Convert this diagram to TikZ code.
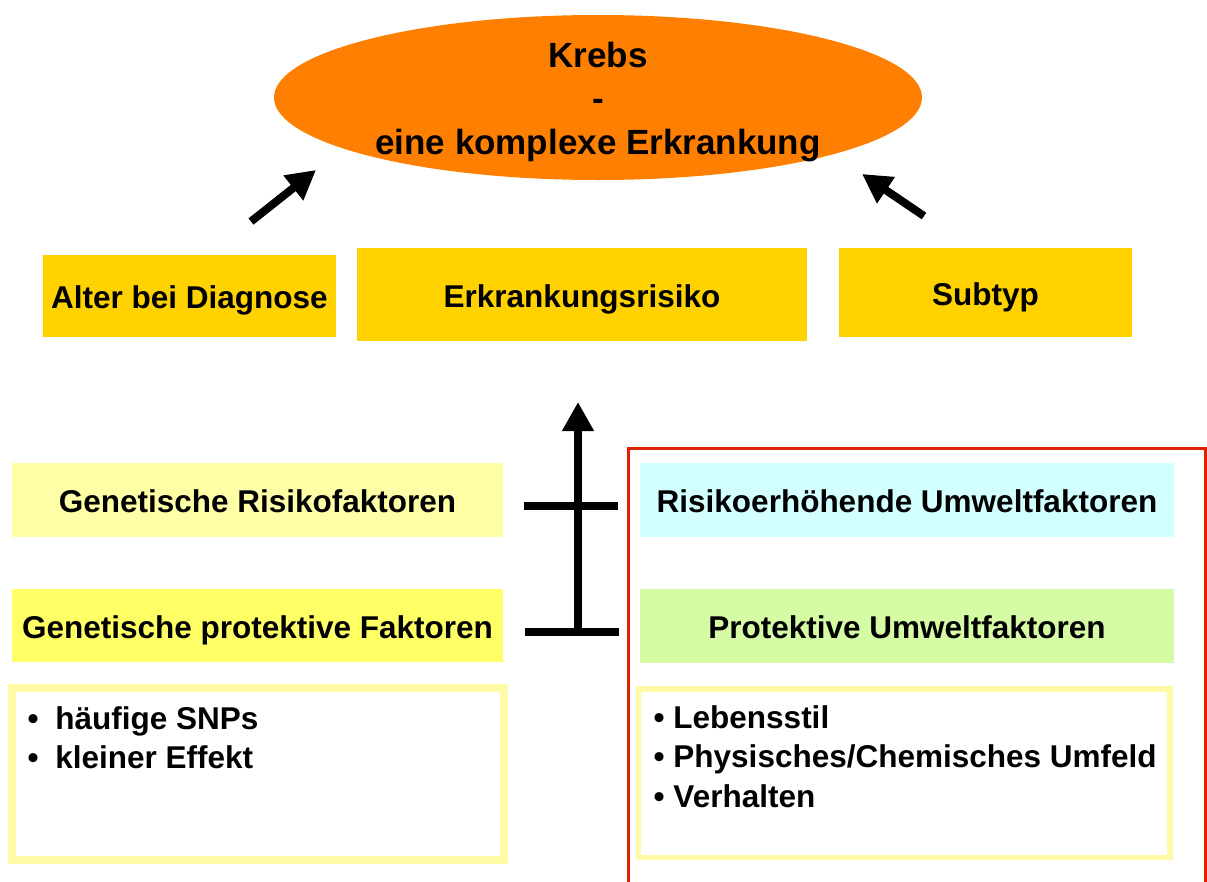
\documentclass[tikz,border=0pt]{standalone}
\usepackage{fontspec}
\setmainfont{Liberation Sans}
\usetikzlibrary{shapes.geometric,arrows.meta}
\definecolor{krebsorange}{HTML}{FF8000}
\definecolor{gold}{HTML}{FFD200}
\definecolor{paleyellow}{HTML}{FFFFA8}
\definecolor{brightyellow}{HTML}{FFFF66}
\definecolor{palecyan}{HTML}{D2FFFF}
\definecolor{palegreen}{HTML}{D5FCA5}
\definecolor{framered}{HTML}{DD2200}
\definecolor{listborder}{HTML}{FFFAA5}

\begin{document}
\begin{tikzpicture}[x=1pt,y=-1pt,
  txt/.style={font=\fontsize{31.5}{39}\selectfont\bfseries},
  fbox/.style={txt, inner sep=0pt, text height=25pt, text depth=0pt, minimum width=#1},
  listbox/.style={draw=listborder, fill=white, inner sep=0pt},
  listline/.style={txt, inner sep=0pt, anchor=base west},
  bigarrow/.style={line width=8pt, -{Triangle[length=29pt,width=30pt]}},
  bar/.style={line width=8pt},
]
\clip (0,0) rectangle (1207,881);
\fill[white] (0,0) rectangle (1207,881);

% central ellipse
\node[ellipse, fill=krebsorange, minimum width=648pt, minimum height=165pt, inner sep=0pt] (krebs) at (598,97.5) {};
\node[font=\fontsize{35}{43.5}\selectfont\bfseries, align=center, inner sep=0pt] (krebstext) at (598,102) {Krebs\\-\\eine komplexe Erkrankung};

% top row of boxes
\node[fbox=293pt, minimum height=82pt, fill=gold] (alter) at (189.5,296) {Alter bei Diagnose};
\node[fbox=450pt, minimum height=93pt, fill=gold] (risiko) at (582,294.5) {Erkrankungsrisiko};
\node[fbox=293pt, minimum height=89pt, fill=gold] (subtyp) at (985.5,292.5) {Subtyp};

% diagonal arrows towards the ellipse
\coordinate (la0) at (251,221.5);
\coordinate (la1) at (316,170);
\coordinate (ra0) at (924,216);
\coordinate (ra1) at (862,174);
\draw[bigarrow] (la0) -- (la1);
\draw[bigarrow] (ra0) -- (ra1);

% red frame around the environmental factors
\draw[framered, line width=3pt] (628,890) -- (628,448) -- (1205,448) -- (1205,890);

% factor boxes
\node[fbox=491pt, minimum height=74pt, fill=paleyellow] (genrisk) at (257.5,500) {Genetische Risikofaktoren};
\node[fbox=491pt, minimum height=73pt, fill=brightyellow] (genprot) at (257.5,625.5) {Genetische protektive Faktoren};
\node[fbox=534pt, minimum height=74pt, fill=palecyan] (umwrisk) at (907,500) {Risikoerhöhende Umweltfaktoren};
\node[fbox=534pt, minimum height=74pt, fill=palegreen] (umwprot) at (907,626) {Protektive Umweltfaktoren};

% balance bars and upward arrow
\coordinate (tbl) at (524,505.5);
\coordinate (tbr) at (618,505.5);
\coordinate (bbl) at (525,631.5);
\coordinate (bbr) at (619,631.5);
\coordinate (stem) at (578,631.5);
\coordinate (tip) at (578,402);
\draw[bar] (tbl) -- (tbr);
\draw[bar] (bbl) -- (bbr);
\draw[bigarrow] (stem) -- (tip);

% bullet lists
\node[listbox, line width=8pt, minimum width=492.5pt, minimum height=171.5pt] (leftlist) at (257.75,773.75) {};
\node[listbox, line width=5.5pt, minimum width=531.5pt, minimum height=168.5pt] (rightlist) at (904.25,773.25) {};

\node[listline] (l1) at (27.5,729) {•\hspace{16.6pt}häufige SNPs};
\node[listline] (l2) at (27.5,768) {•\hspace{16.6pt}kleiner Effekt};

\node[listline] (r1) at (653.5,728) {• Lebensstil};
\node[listline] (r2) at (653.5,767) {• Physisches/Chemisches Umfeld};
\node[listline] (r3) at (653.5,807) {• Verhalten};
\end{tikzpicture}
\end{document}
